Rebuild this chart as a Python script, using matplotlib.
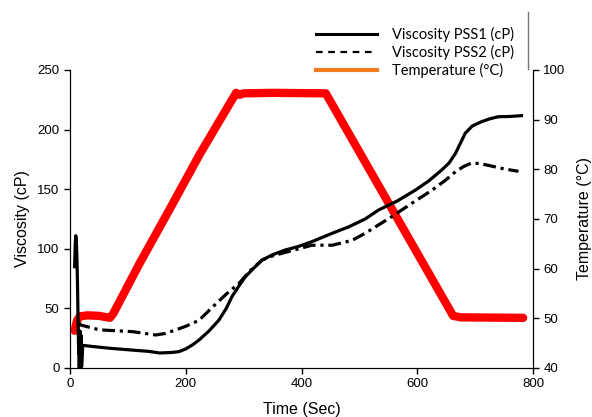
import numpy as np
import matplotlib.pyplot as plt
from matplotlib.lines import Line2D

plt.rcParams['font.family'] = ['Liberation Sans', 'DejaVu Sans']

# Viscosity PSS1 (cP), incl. the noisy start-up spike
pss1_time = [8, 9, 10, 11, 12, 13, 14, 15, 15.5, 16, 16.5, 17, 17.5, 18, 18.5, 19, 19.5, 20,
             22, 40, 70, 108, 135, 155, 175, 188, 200, 212, 223, 240, 257, 270, 280, 292,
             303, 318, 332, 350, 372, 395, 418, 453, 482, 510, 533, 565, 596, 620, 642,
             655, 666, 675, 683, 695, 711, 725, 740, 760, 780]
pss1_visc = [85, 104, 111, 106, 92, 70, 38, 12, 30, 0, 28, 2, 31, 0, 25, 4, 27, 1,
             19, 18, 16.5, 15, 14, 12.6, 13, 13.7, 16, 19.5, 23.5, 31, 40, 50, 60, 69,
             76.6, 84, 90.6, 95, 99, 102, 106, 113, 118.5, 125, 132.5, 140, 149, 157, 166,
             172, 180, 189, 197, 203, 206.6, 209, 210.8, 211, 211.7]

# Viscosity PSS2 (cP)
pss2_time = [14, 19, 51, 108, 148, 165, 183, 200, 223, 246, 270, 292, 312, 332, 350, 372,
             395, 418, 453, 487, 510, 533, 556, 590, 625, 650, 666, 680, 694, 708, 723,
             750, 775]
pss2_visc = [38, 36, 32, 30.5, 27.7, 29, 32, 35, 40, 51, 62, 71, 82, 90.6, 94, 97,
             100, 103, 103, 107, 113, 120, 127, 138, 149, 158, 164.7, 169, 172, 171.5, 170,
             167, 165]

# Temperature (°C)
temp_time = [8, 12, 17, 30, 50, 69, 75, 120, 170, 224, 287, 293, 300, 350, 442, 662, 675, 783]
temp_val = [47.5, 49.5, 50.4, 50.6, 50.5, 50.1, 51, 61, 71.5, 83, 95.4, 95.0, 95.3, 95.4,
            95.3, 50.5, 50.2, 50.1]

fig = plt.figure(figsize=(5.92, 4.17), dpi=100)
ax1 = fig.add_axes([70 / 592, 49 / 417, 463 / 592, 298 / 417])
ax2 = ax1.twinx()

ax1.plot(pss1_time, pss1_visc, color='black', linewidth=2.3, zorder=3)
ax1.plot(pss2_time, pss2_visc, color='black', linewidth=2.3,
         dashes=(4, 1.5, 1, 1.5), zorder=3)
ax2.plot(temp_time, temp_val, color='#ff0000', linewidth=6, solid_capstyle='round')
ax1.set_zorder(ax2.get_zorder() + 1)
ax1.patch.set_visible(False)

ax1.set_xlim(0, 800)
ax1.set_ylim(0, 250)
ax2.set_ylim(40, 100)
ax1.set_xticks(np.arange(0, 801, 200))
ax1.set_yticks(np.arange(0, 251, 50))
ax2.set_yticks(np.arange(40, 101, 10))

for ax in (ax1, ax2):
    ax.spines['top'].set_visible(False)
    ax.tick_params(direction='out', length=4, width=1, labelsize=9.5)
ax1.set_xlabel('Time (Sec)', fontsize=11.5, labelpad=8)
ax1.set_ylabel('Viscosity (cP)', fontsize=11.5, labelpad=5)
ax2.set_ylabel('Temperature (°C)', fontsize=11.5, labelpad=8)

handles = [
    Line2D([], [], color='black', linewidth=2.2),
    Line2D([], [], color='black', linewidth=1.6, linestyle=(0, (3, 2.5))),
    Line2D([], [], color='#f47b20', linewidth=3),
]
labels = ['Viscosity PSS1 (cP)', 'Viscosity PSS2 (cP)', 'Temperature (°C)']
fig.legend(handles, labels, loc='upper left', bbox_to_anchor=(303 / 592, 1 - 14 / 417),
           frameon=False, handlelength=4.2, handletextpad=1.0, labelspacing=0.2,
           prop={'family': ['Lato', 'DejaVu Sans'], 'size': 10.5})
fig.add_artist(Line2D([528 / 592, 528 / 592], [1 - 12 / 417, 1 - 69 / 417],
                      transform=fig.transFigure, color='#777777', linewidth=1))

fig.savefig('out.png', dpi=100)
